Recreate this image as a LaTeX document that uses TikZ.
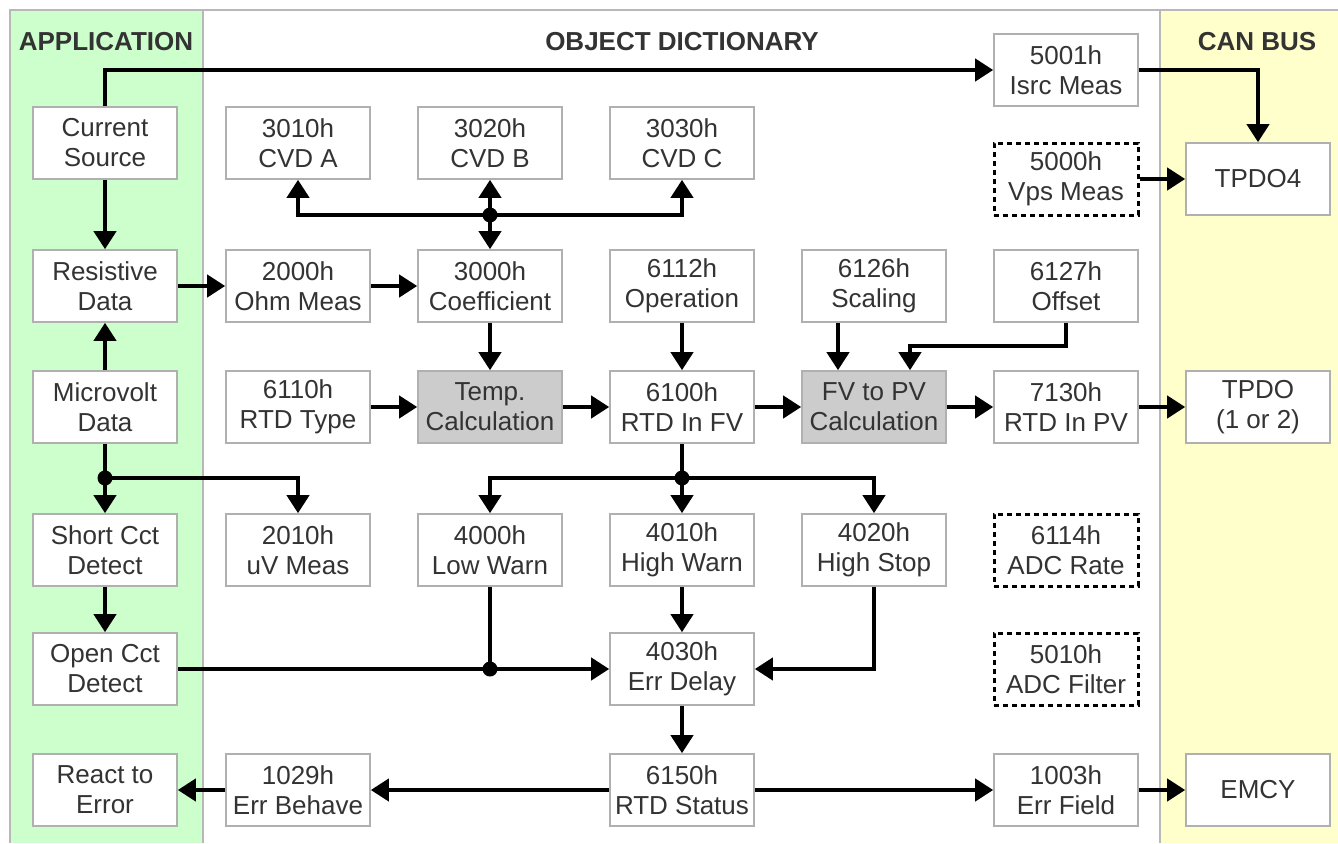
\documentclass[tikz,border=0pt]{standalone}
\usepackage{fontspec}
\setmainfont{Liberation Sans}
\usetikzlibrary{arrows.meta,calc}
\definecolor{appgreen}{HTML}{CCFFCC}
\definecolor{canyellow}{HTML}{FFFFCC}
\definecolor{frame}{HTML}{B8B8B8}
\definecolor{boxgray}{HTML}{B0B0B0}
\definecolor{calcgray}{HTML}{CCCCCC}
\definecolor{txt}{HTML}{333333}
\begin{document}
\begin{tikzpicture}[x=1pt,y=-1pt,
  box/.style={draw=boxgray, line width=1.6pt, fill=white, minimum width=144pt, minimum height=72pt,
    inner sep=0pt, align=center, text=txt, font=\fontsize{26}{30}\selectfont},
  calcbox/.style={box, fill=calcgray},
  optbox/.style={box, draw=black, line width=3pt, dash pattern=on 5pt off 4pt},
  header/.style={text=txt, font=\fontsize{26}{30}\selectfont\bfseries},
  conn/.style={line width=4pt, -{Triangle[length=18pt,width=22pt]}},
  plain/.style={line width=4pt},
  dot/.style={circle, fill=black, inner sep=0pt, minimum size=15pt}]
\useasboundingbox (0,0) rectangle (1338,843);
% panels
\fill[white] (0,0) rectangle (1338,843);
\fill[appgreen] (10,10) rectangle (203,843);
\fill[canyellow] (1160,10) rectangle (1338,843);
\draw[frame, line width=2pt] (10,843) -- (10,10) -- (1338,10);
\draw[frame, line width=2pt] (203,10) -- (203,843);
\draw[frame, line width=2pt] (1160,10) -- (1160,843);
% headers
\node[header] (happ) at (106,42) {APPLICATION};
\node[header] (hod) at (682,42) {OBJECT DICTIONARY};
\node[header] (hcan) at (1257,42) {CAN BUS};
% application column
\node[box] (cs) at (105,143) {Current\\Source};
\node[box] (rd) at (105,286) {Resistive\\Data};
\node[box] (mv) at (105,407) {Microvolt\\Data};
\node[box] (sc) at (105,550) {Short Cct\\Detect};
\node[box] (oc) at (105,669) {Open Cct\\Detect};
\node[box] (re) at (105,790) {React to\\Error};
% object dictionary
\node[box] (a3010) at (298,143) {3010h\\CVD A};
\node[box] (a3020) at (490,143) {3020h\\CVD B};
\node[box] (a3030) at (682,143) {3030h\\CVD C};
\node[box] (a5001) at (1066,70) {5001h\\Isrc Meas};
\node[optbox] (a5000) at (1066,179) {5000h\\Vps Meas};
\node[box] (a2000) at (298,286) {2000h\\Ohm Meas};
\node[box] (a3000) at (490,286) {3000h\\Coefficient};
\node[box] (a6112) at (682,286) {6112h\\Operation};
\node[box] (a6126) at (874,286) {6126h\\Scaling};
\node[box] (a6127) at (1066,286) {6127h\\Offset};
\node[box] (a6110) at (298,407) {6110h\\RTD Type};
\node[calcbox] (tc) at (490,407) {Temp.\\Calculation};
\node[box] (a6100) at (682,407) {6100h\\RTD In FV};
\node[calcbox] (fv) at (874,407) {FV to PV\\Calculation};
\node[box] (a7130) at (1066,407) {7130h\\RTD In PV};
\node[box] (a2010) at (298,550) {2010h\\uV Meas};
\node[box] (a4000) at (490,550) {4000h\\Low Warn};
\node[box] (a4010) at (682,550) {4010h\\High Warn};
\node[box] (a4020) at (874,550) {4020h\\High Stop};
\node[optbox] (a6114) at (1066,550) {6114h\\ADC Rate};
\node[box] (a4030) at (682,669) {4030h\\Err Delay};
\node[optbox] (a5010) at (1066,669) {5010h\\ADC Filter};
\node[box] (a1029) at (298,790) {1029h\\Err Behave};
\node[box] (a6150) at (682,790) {6150h\\RTD Status};
\node[box] (a1003) at (1066,790) {1003h\\Err Field};
% CAN bus
\node[box] (tpdo4) at (1258,179) {TPDO4};
\node[box] (tpdo) at (1258,407) {TPDO\\(1 or 2)};
\node[box] (emcy) at (1258,790) {EMCY};
% junction points
\coordinate (j1) at (490,215);
\coordinate (j2) at (105,478);
\coordinate (j3) at (682,478);
\coordinate (j4) at (490,669);
\coordinate (k1) at (1066,346);
% connectors
\draw[conn] (cs.north) |- (a5001.west);
\draw[conn] (a5001.east) -| (tpdo4.north);
\draw[conn] (a5000.east) -- (tpdo4.west);
\draw[conn] (cs.south) -- (rd.north);
\draw[conn] (mv.north) -- (rd.south);
\draw[conn] (rd.east) -- (a2000.west);
\draw[conn] (a2000.east) -- (a3000.west);
\draw[conn] (j1) -- (a3020.south);
\draw[conn] (j1) -- (a3000.north);
\draw[conn] (j1) -| (a3010.south);
\draw[conn] (j1) -| (a3030.south);
\draw[conn] (a3000.south) -- (tc.north);
\draw[conn] (a6110.east) -- (tc.west);
\draw[conn] (tc.east) -- (a6100.west);
\draw[conn] (a6112.south) -- (a6100.north);
\draw[conn] (a6100.east) -- (fv.west);
\draw[conn] ([xshift=-36pt]a6126.south) -- ([xshift=-36pt]fv.north);
\draw[conn] (a6127.south) -- (k1) -| ([xshift=36pt]fv.north);
\draw[conn] (fv.east) -- (a7130.west);
\draw[conn] (a7130.east) -- (tpdo.west);
\draw[plain] (a6100.south) -- (j3);
\draw[conn] (j3) -| (a4000.north);
\draw[conn] (j3) -- (a4010.north);
\draw[conn] (j3) -| (a4020.north);
\draw[plain] (mv.south) -- (j2);
\draw[conn] (j2) -- (sc.north);
\draw[conn] (j2) -| (a2010.north);
\draw[conn] (sc.south) -- (oc.north);
\draw[conn] (oc.east) -- (a4030.west);
\draw[plain] (a4000.south) -- (j4);
\draw[conn] (a4020.south) |- (a4030.east);
\draw[conn] (a4010.south) -- (a4030.north);
\draw[conn] (a4030.south) -- (a6150.north);
\draw[conn] (a6150.west) -- (a1029.east);
\draw[conn] (a1029.west) -- (re.east);
\draw[conn] (a6150.east) -- (a1003.west);
\draw[conn] (a1003.east) -- (emcy.west);
% junction dots
\node[dot] (d1) at (j1) {};
\node[dot] (d2) at (j2) {};
\node[dot] (d3) at (j3) {};
\node[dot] (d4) at (j4) {};
\end{tikzpicture}
\end{document}
